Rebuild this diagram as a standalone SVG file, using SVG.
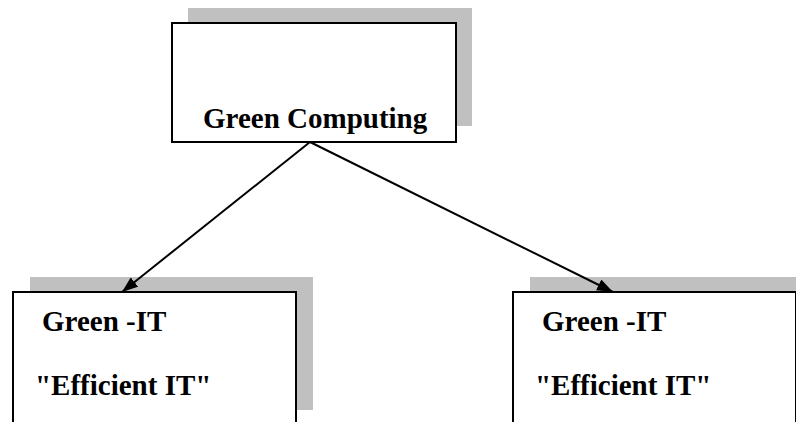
<svg xmlns="http://www.w3.org/2000/svg" width="796" height="422" viewBox="0 0 796 422">
<style>
.shadow{fill:#c0c0c0;stroke:none}
.box{fill:#ffffff;stroke:#000000;stroke-width:2}
.lbl{font-family:"Liberation Serif","Times New Roman",serif;font-weight:bold;font-size:29px;fill:#000000}
.edge{stroke:#000000;stroke-width:2;fill:none;marker-end:url(#arrow)}
</style>
<defs>
<marker id="arrow" viewBox="0 0 16 12" refX="16" refY="6" markerWidth="16" markerHeight="12" markerUnits="userSpaceOnUse" orient="auto">
<path d="M0,0 L16,6 L0,12 Z" fill="#000000"/>
</marker>
</defs>
<rect width="796" height="422" fill="#ffffff"/>
<g id="node-green-computing">
<rect class="shadow" x="188" y="8" width="284" height="118"/>
<rect class="box" x="172" y="23" width="284" height="119"/>
<text class="lbl" x="203" y="128">Green Computing</text>
</g>
<g id="node-green-it-left">
<rect class="shadow" x="30" y="277" width="283" height="133"/>
<rect class="box" x="13" y="292" width="283" height="140"/>
<text class="lbl" x="42" y="331">Green -IT</text>
<text class="lbl" x="35" y="395">"Efficient IT"</text>
</g>
<g id="node-green-it-right">
<rect class="shadow" x="530" y="277" width="283" height="133"/>
<rect class="box" x="513" y="292" width="283" height="140"/>
<text class="lbl" x="542" y="331">Green -IT</text>
<text class="lbl" x="535" y="395">"Efficient IT"</text>
</g>
<g id="connectors">
<line class="edge" x1="310" y1="142" x2="122" y2="292"/>
<line class="edge" x1="310" y1="142" x2="613" y2="292"/>
</g>
</svg>
